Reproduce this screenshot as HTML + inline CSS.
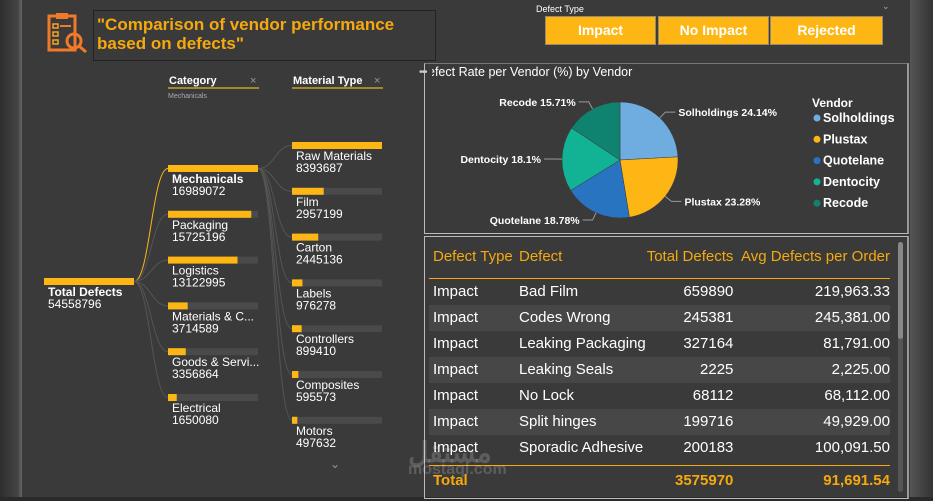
<!DOCTYPE html>
<html><head><meta charset="utf-8"><style>
body{margin:0;width:933px;height:501px;background:#3a3a3a;overflow:hidden;font-family:"Liberation Sans",Arial,sans-serif;position:relative}
.abs{position:absolute}
.w{color:#fff}
.tbl td{padding:0;height:26px;font-size:15px;color:#fff;white-space:nowrap}
</style></head><body>
<div class="abs" style="left:0;top:0;width:22px;height:501px;background:linear-gradient(90deg,#2e2e2e,#444 80%,#666)"></div>
<div class="abs" style="left:910px;top:0;width:23px;height:501px;background:linear-gradient(90deg,#555,#333)"></div>
<div class="abs" style="left:0;top:497px;width:933px;height:4px;background:#2a2a2a"></div>

<svg class="abs" style="left:47px;top:11px" width="42" height="42" viewBox="0 0 42 42">
<rect x="2" y="5" width="26" height="34" fill="none" stroke="#f07a2a" stroke-width="3"/>
<rect x="9" y="2" width="12" height="6" fill="#f07a2a"/>
<rect x="6" y="13" width="5" height="4" fill="none" stroke="#f5a623" stroke-width="1.5"/>
<rect x="6" y="21" width="5" height="4" fill="none" stroke="#f5a623" stroke-width="1.5"/>
<rect x="6" y="29" width="5" height="4" fill="none" stroke="#f5a623" stroke-width="1.5"/>
<line x1="13" y1="15" x2="24" y2="15" stroke="#f07a2a" stroke-width="2"/>
<circle cx="27" cy="30" r="7" fill="none" stroke="#f07a2a" stroke-width="3"/>
<line x1="32" y1="35" x2="39" y2="41" stroke="#f07a2a" stroke-width="3"/>
</svg>
<div class="abs" style="left:93px;top:10px;width:343px;height:51px;border:1px solid #222;box-sizing:border-box;color:#f5a90f;font-weight:bold;font-size:17px;line-height:19px;padding:4px 0 0 3px">"Comparison of vendor performance based on defects"</div>

<div class="abs" style="left:536px;top:4px;font-size:9px;color:#fff">Defect Type</div>
<div class="abs" style="left:882px;top:1px;font-size:9px;color:#aaa">&#8964;</div>
<div class="abs" style="left:545px;top:16px;width:111px;height:29px;background:#fdb614;border:1px solid #9a8a6a;box-sizing:border-box;color:#fff;font-weight:bold;font-size:14px;text-align:center;line-height:27px">Impact</div>
<div class="abs" style="left:658px;top:16px;width:111px;height:29px;background:#fdb614;border:1px solid #9a8a6a;box-sizing:border-box;color:#fff;font-weight:bold;font-size:14px;text-align:center;line-height:27px">No Impact</div>
<div class="abs" style="left:770px;top:16px;width:113px;height:29px;background:#fdb614;border:1px solid #9a8a6a;box-sizing:border-box;color:#fff;font-weight:bold;font-size:14px;text-align:center;line-height:27px">Rejected</div>

<svg class="abs" id="tree" style="left:0;top:60px" width="420" height="420"></svg>

<div class="abs" style="left:424px;top:63px;width:485px;height:171px;border:1px solid #bbb;border-top:1px solid #777;border-right:2px solid #999;box-sizing:border-box"></div>
<div class="abs" style="left:419px;top:67px;font-size:10px;color:#ccc;letter-spacing:-1px">•••</div>
<div class="abs" style="left:432px;top:65px;font-size:12.5px;color:#fff;width:300px;overflow:hidden;white-space:nowrap;text-indent:-4px">efect Rate per Vendor (%) by Vendor</div>
<svg class="abs" id="pie" style="left:424px;top:80px" width="485" height="150"></svg>

<div class="abs" style="left:424px;top:236px;width:485px;height:263px;border:1px solid #bbb;border-right:2px solid #999;box-sizing:border-box"></div>
<div class="abs" style="left:898px;top:242px;width:5px;height:250px;background:#555;border-radius:3px"><div style="width:5px;height:97px;background:#888;border-radius:3px"></div></div>
<div class="abs" id="tbl" style="left:429px;top:242px;width:461px"></div>
<div class="abs" style="left:408px;top:436px;font-size:28px;font-weight:bold;color:rgba(255,255,255,0.18)">مستقل<div style="font-size:16px;margin-top:-8px">mostaql.com</div></div>

<script>
// ---- decomposition tree data
const totalLabel = "Total Defects";
const totalValue = 54558796;
const categories = ["Mechanicals","Packaging","Logistics","Materials & C...","Goods & Servi...","Electrical"];
const categoryValues = [16989072,15725196,13122995,3714589,3356864,1650080];
const materials = ["Raw Materials","Film","Carton","Labels","Controllers","Composites","Motors"];
const materialValues = [8393687,2957199,2445136,976278,899410,595573,497632];

const NS="http://www.w3.org/2000/svg";
function mk(parent,tag,attrs,text){const e=document.createElementNS(NS,tag);for(const k in attrs)e.setAttribute(k,attrs[k]);if(text!==undefined)e.textContent=text;parent.appendChild(e);return e;}
const tree=document.getElementById('tree');
const BW=90, ORANGE="#fdb614", TRACK="#4a4a4a";
function barW(v,max){return BW*v/max;}
[["Category",168],["Material Type",292]].forEach(([t,x])=>{
  const h=mk(tree,'text',{x:x+1,y:24,fill:'#fff','font-size':11,'font-weight':'bold'},t);
  
  
  mk(tree,'line',{x1:x,x2:x+91,y1:28,y2:28,stroke:'#c9a227','stroke-width':1.5});
  mk(tree,'text',{x:x+82,y:24,fill:'#999','font-size':11},'×');
});
mk(tree,'text',{x:168,y:38,fill:'#aab','font-size':7},'Mechanicals');
const ty=218;
const tr=mk(tree,'rect',{x:44,y:ty,width:BW,height:7,fill:ORANGE});


mk(tree,'text',{x:48,y:ty+18,fill:'#fff','font-size':12,'font-weight':'bold'},totalLabel);
mk(tree,'text',{x:48,y:ty+30,fill:'#fff','font-size':12},String(totalValue));
const catMax=categoryValues[0];
categories.forEach((c,i)=>{
  const y=105+i*45.8;
  mk(tree,'path',{d:`M134 ${ty+3.5} C150 ${ty+3.5},152 ${y+3.5},168 ${y+3.5}`,fill:'none',stroke:i==0?ORANGE:'#555','stroke-width':1});
  mk(tree,'rect',{x:168,y:y,width:BW,height:7,fill:TRACK});
  const b=mk(tree,'rect',{x:168,y:y,width:barW(categoryValues[i],catMax),height:7,fill:ORANGE});
  
  
  mk(tree,'text',{x:172,y:y+18,fill:'#fff','font-size':12,'font-weight':i==0?'bold':'normal'},c);
  mk(tree,'text',{x:172,y:y+30,fill:'#fff','font-size':12},String(categoryValues[i]));
});
const matMax=materialValues[0];
materials.forEach((m,i)=>{
  const y=82+i*45.8;
  mk(tree,'path',{d:`M258 108.5 C275 108.5,275 ${y+3.5},292 ${y+3.5}`,fill:'none',stroke:'#555','stroke-width':1});
  mk(tree,'rect',{x:292,y:y,width:BW,height:7,fill:TRACK});
  const b=mk(tree,'rect',{x:292,y:y,width:barW(materialValues[i],matMax),height:7,fill:ORANGE});
  
  
  mk(tree,'text',{x:296,y:y+18,fill:'#fff','font-size':12},m);
  mk(tree,'text',{x:296,y:y+30,fill:'#fff','font-size':12},String(materialValues[i]));
});
mk(tree,'text',{x:330,y:408,fill:'#999','font-size':12},'⌄');

// ---- pie data
const vendors=["Solholdings","Plustax","Quotelane","Dentocity","Recode"];
const vendorPct=[24.14,23.28,18.78,18.1,15.71];
const vendorColors=["#6fade0","#fdb614","#2874c0","#12b294","#108270"];
const pie=document.getElementById('pie');
const cx=196,cy=80,R=58;
const sum=vendorPct.reduce((a,b)=>a+b,0);
let a0=-Math.PI/2;
vendorPct.forEach((p,i)=>{
  const a1=a0+2*Math.PI*p/sum;
  const x0=cx+R*Math.cos(a0),y0=cy+R*Math.sin(a0),x1=cx+R*Math.cos(a1),y1=cy+R*Math.sin(a1);
  const s=mk(pie,'path',{d:`M${cx} ${cy} L${x0} ${y0} A${R} ${R} 0 ${a1-a0>Math.PI?1:0} 1 ${x1} ${y1}Z`,fill:vendorColors[i],stroke:'#3a3a3a','stroke-width':0.5});
  
  
  const am=(a0+a1)/2, ex=cx+(R+8)*Math.cos(am), ey=cy+(R+8)*Math.sin(am);
  const right=Math.cos(am)>=0, lx=ex+(right?10:-10);
  mk(pie,'polyline',{points:`${cx+R*Math.cos(am)},${cy+R*Math.sin(am)} ${ex},${ey} ${lx},${ey}`,fill:'none',stroke:'#999','stroke-width':1});
  mk(pie,'text',{x:lx+(right?3:-3),y:ey+4,fill:'#fff','font-size':10.5,'font-weight':'bold','text-anchor':right?'start':'end'},vendors[i]+' '+p+'%');
  a0=a1;
});
mk(pie,'text',{x:388,y:27,fill:'#fff','font-size':12,'font-weight':'bold'},'Vendor');
vendors.forEach((v,i)=>{
  const y=42+i*21.3;
  mk(pie,'circle',{cx:393,cy:y-4,r:3.5,fill:vendorColors[i]});
  const t=mk(pie,'text',{x:399,y:y,fill:'#fff','font-size':12.5,'font-weight':'bold'},v);
  
  
});

// ---- table data
const defectTypes=["Impact","Impact","Impact","Impact","Impact","Impact","Impact"];
const defects=["Bad Film","Codes Wrong","Leaking Packaging","Leaking Seals","No Lock","Split hinges","Sporadic Adhesive"];
const totals=["659890","245381","327164","2225","68112","199716","200183"];
const avgs=["219,963.33","245,381.00","81,791.00","2,225.00","68,112.00","49,929.00","100,091.50"];
let h='<table class="tbl" style="border-collapse:collapse;width:461px"><tr style="height:36px"><td style="color:#f5a90f;width:86px;padding-left:4px;vertical-align:middle;padding-bottom:6px">Defect Type</td><td style="color:#f5a90f;padding-bottom:6px">Defect</td><td style="color:#f5a90f;text-align:right;padding-right:7px;padding-bottom:6px">Total Defects</td><td style="color:#f5a90f;text-align:right;padding-bottom:6px">Avg Defects per Order</td></tr><tr><td colspan="4" style="height:0;border-top:1.5px solid #f5a90f"></td></tr>';
defects.forEach((d,i)=>{h+=`<tr style="background:${i%2?'#474747':'transparent'}"><td style="padding-left:4px">${defectTypes[i]}</td><td>${d}</td><td style="text-align:right;padding-right:7px">${totals[i]}</td><td style="text-align:right">${avgs[i]}</td></tr>`;});
h+='<tr><td colspan="4" style="height:4px"></td></tr><tr><td colspan="4" style="height:0;border-top:1.5px solid #f5a90f"></td></tr><tr style="height:29px"><td style="padding-left:4px;color:#f5a90f;font-weight:bold">Total</td><td></td><td style="text-align:right;padding-right:7px;color:#f5a90f;font-weight:bold">3575970</td><td style="text-align:right;color:#f5a90f;font-weight:bold">91,691.54</td></tr></table>';
document.getElementById('tbl').innerHTML=h;
</script>
</body></html>
